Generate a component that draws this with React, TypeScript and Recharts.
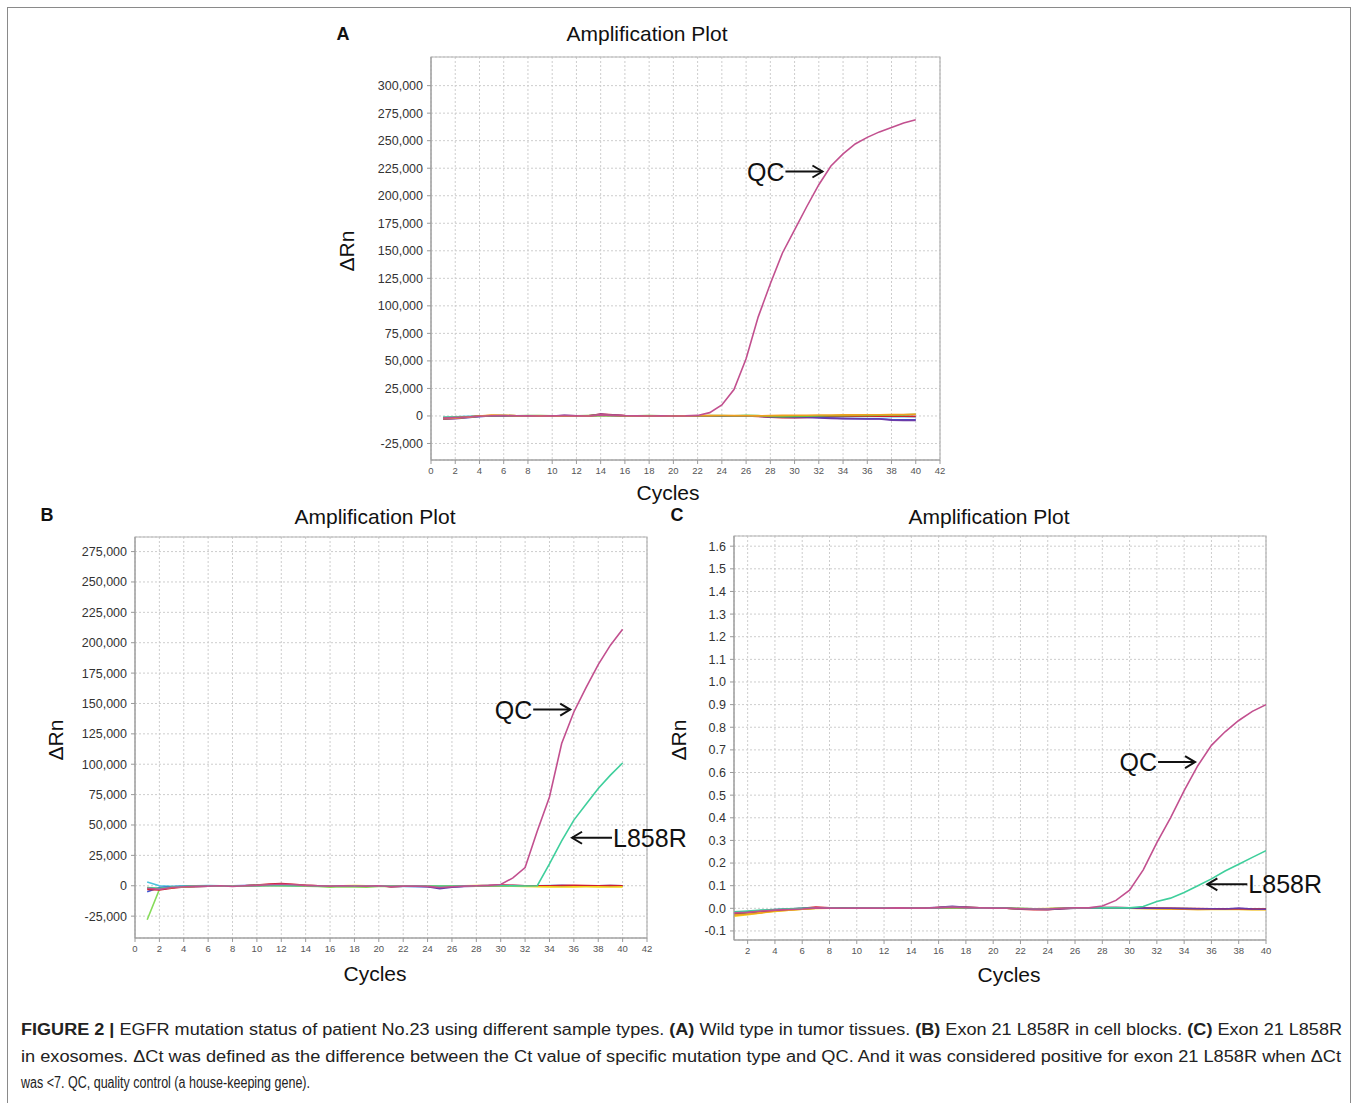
import React from "react";
import {
  LineChart,
  Line,
  XAxis,
  YAxis,
  CartesianGrid,
  ReferenceArea,
  ReferenceDot,
} from "recharts";

const FONT = '"Liberation Sans", Arial, Helvetica, sans-serif';

// ---------- shared categories / ticks ----------
const CYCLES = [
  1, 2, 3, 4, 5, 6, 7, 8, 9, 10, 11, 12, 13, 14, 15, 16, 17, 18, 19, 20,
  21, 22, 23, 24, 25, 26, 27, 28, 29, 30, 31, 32, 33, 34, 35, 36, 37, 38, 39, 40,
];
const X_TICKS_AB = [0, 2, 4, 6, 8, 10, 12, 14, 16, 18, 20, 22, 24, 26, 28, 30, 32, 34, 36, 38, 40, 42];
const X_TICKS_C = [2, 4, 6, 8, 10, 12, 14, 16, 18, 20, 22, 24, 26, 28, 30, 32, 34, 36, 38, 40];
const Y_TICKS_A = [-25000, 0, 25000, 50000, 75000, 100000, 125000, 150000, 175000, 200000, 225000, 250000, 275000, 300000];
const Y_TICKS_B = [-25000, 0, 25000, 50000, 75000, 100000, 125000, 150000, 175000, 200000, 225000, 250000, 275000];
const Y_TICKS_C = [-0.1, 0, 0.1, 0.2, 0.3, 0.4, 0.5, 0.6, 0.7, 0.8, 0.9, 1.0, 1.1, 1.2, 1.3, 1.4, 1.5, 1.6];

// ---------- colours ----------
const C_QC = "#c2508f";
const C_MUT = "#3fcf9c";
const C_GREEN = "#6cbf3f";
const C_LIME = "#86dc5a";
const C_ORANGE = "#f0a020";
const C_YELLOW = "#f2d21a";
const C_PURPLE = "#6a3aa8";
const C_BLUE = "#3a56d6";
const C_RED = "#d0202e";
const C_CYAN = "#4cc4de";
const C_DKGREEN = "#3d7d2a";

// ---------- Panel A (wild type, tumor tissue) ----------
const A_QC = [-2000, -1500, -900, -200, 200, 300, 200, 100, 0, 100, 200, 100, 0, 1000, 500, 200, 100, 0, 100, 0, 100, 500, 3000, 10000, 24000, 52000, 90000, 120000, 148000, 169000, 190000, 210000, 227000, 238000, 247000, 253000, 258000, 262000, 266000, 269000];
const A_GREEN = [-1500, -1200, -800, -200, 200, 300, 200, 400, 300, 200, 100, 200, 300, 400, 200, 100, 200, 300, 200, 100, 0, 200, 400, 300, 200, 500, 300, -500, -600, -400, -200, 0, 200, 300, 400, 500, 600, 800, 1000, 1500];
const A_ORANGE = [-2500, -2000, -1200, 0, 800, 700, 300, 200, 100, 0, -100, 0, 100, 600, 400, 200, 100, 0, -100, 0, 100, 200, 300, 400, 300, 200, 100, 300, 500, 600, 700, 800, 900, 1000, 1000, 1100, 1100, 1200, 1300, 1600];
const A_PURPLE = [-3000, -2500, -1500, -500, 0, 200, 100, 0, -100, 0, 500, 200, 100, 1500, 800, 200, 0, -200, 0, 100, 0, -100, 0, 200, 100, 0, -300, -800, -1200, -1300, -1400, -1800, -2200, -2500, -2600, -2700, -2800, -3800, -4000, -4000];
const A_BLUE = [-2000, -1800, -1200, -400, 0, 100, 0, -100, 0, 100, 200, 100, 0, 800, 400, 100, 0, -100, 0, 100, 0, 0, 100, 200, 100, 0, -200, -500, -800, -900, -1000, -1200, -1800, -2200, -2400, -2500, -2600, -3200, -3500, -3500];
const A_RED = [-2500, -2000, -1000, 0, 300, 200, 100, 0, -100, 0, 300, 200, 100, 1800, 1000, 300, 100, 0, -200, 0, 100, 0, 0, 200, 100, 0, -400, -1200, -1500, -1500, -1300, -800, -600, -400, -300, -200, -200, -300, -300, -400];
const A_CYAN = [-1000, -800, -400, 0, 200, 300, 200, 100, 0, 100, 200, 100, 0, 300, 200, 100, 0, 100, 200, 100, 0, 100, 200, 100, 0, 100, 200, -200, -400, -300, -200, -100, -200, -300, -400, -500, -500, -600, -600, -700];

// ---------- Panel B (L858R, cell blocks) ----------
const B_QC = [-2000, -3000, -1500, -800, -500, -300, 0, -500, 0, 300, 800, 1200, 800, 300, 0, -300, 0, -200, -300, 0, -600, -300, -200, -500, -1500, -800, -300, 0, 300, 1000, 6500, 15000, 45000, 73000, 117000, 143000, 163000, 182000, 198000, 211000];
const B_L858R = [-1500, -2000, -1000, -500, -300, -100, 0, -200, 0, 100, 300, 200, 100, 0, -100, -200, 0, -300, -200, 0, -300, -200, -100, -200, -300, -200, -100, 0, 100, 0, -100, -200, 0, 18000, 37000, 54000, 67000, 80000, 91000, 101000];
const B_CYAN = [3000, 0, -500, -300, 0, 200, 0, -200, 0, 200, 300, 200, 0, -200, 0, -500, 0, -300, -200, 0, -300, -500, -600, -400, -800, -500, -300, -200, 0, -200, -300, -200, 0, 100, 0, -200, -300, -200, -100, 0];
const B_BLUE = [-5000, -1500, -800, -500, -300, 0, -200, 0, 100, 200, 500, 300, 200, 0, -200, -300, -100, -400, -300, 0, -500, -400, -500, -600, -1500, -700, -400, -200, 0, 200, 100, 0, -100, 0, 100, 0, -100, 0, 100, 0];
const B_PURPLE = [-2000, -2500, -1500, -800, -500, -300, 0, -300, 0, 300, 600, 800, 500, 200, 0, -200, 0, -300, -200, 0, -500, -300, -400, -800, -2500, -1200, -500, -300, -100, 0, -200, -300, -200, 0, 100, 0, -200, 0, -100, -300];
const B_RED = [-3000, -3500, -2000, -1000, -600, -300, 0, -400, 0, 600, 1500, 1800, 1200, 300, 0, -200, 0, -200, -100, 0, -800, -400, -200, -300, -600, -400, -200, 0, 200, 500, 300, 0, -100, 0, 200, 300, 100, 0, 100, 0];
const B_ORANGE = [-1500, -2500, -1500, -800, -400, -200, 0, -200, 0, 200, 400, 300, 200, 100, 0, -100, 0, 200, 0, 0, -300, -200, -100, -200, -300, -200, 0, 100, 0, -200, -400, -600, -800, -900, -1000, -900, -800, -900, -1000, -900];
const B_LIME = [-28000, -3000, -1500, -800, -500, -300, 0, -200, 0, 100, 200, 100, 0, -300, -500, -1200, -800, -1000, -1200, -600, -500, -400, -300, -400, -500, -300, -200, -100, 0, -200, -300, -400, -300, -200, -100, 0, -200, -300, -400, -300];

// ---------- Panel C (L858R, exosomes) ----------
const C_QC_V = [-0.02, -0.018, -0.012, -0.008, -0.005, -0.003, 0.002, 0.001, 0.0, 0.001, 0.001, 0.001, 0.002, 0.001, 0.001, 0.003, 0.006, 0.003, 0.002, 0.001, 0.0, -0.002, -0.003, -0.003, 0.0, 0.002, 0.002, 0.01, 0.035, 0.08, 0.17, 0.29, 0.4, 0.52, 0.63, 0.72, 0.78, 0.83, 0.87, 0.9];
const C_L858R = [-0.015, -0.012, -0.008, -0.005, -0.002, 0.0, 0.001, 0.001, 0.0, 0.001, 0.001, 0.002, 0.001, 0.001, 0.0, 0.002, 0.004, 0.002, 0.001, 0.001, 0.0, -0.001, -0.002, -0.002, 0.0, 0.001, 0.002, 0.002, 0.002, 0.002, 0.008, 0.03, 0.045, 0.07, 0.1, 0.13, 0.165, 0.195, 0.225, 0.255];
const C_ORANGE_V = [-0.03, -0.025, -0.02, -0.012, -0.008, -0.004, 0.0, 0.001, 0.0, 0.001, 0.002, 0.001, 0.002, 0.001, 0.0, 0.003, 0.004, 0.003, 0.002, 0.002, 0.0, -0.002, -0.003, -0.002, 0.0, 0.002, 0.001, 0.003, 0.002, 0.0, -0.001, -0.002, -0.003, -0.004, -0.005, -0.004, -0.004, -0.004, -0.005, -0.005];
const C_RED_V = [-0.02, -0.016, -0.012, -0.008, -0.004, 0.0, 0.006, 0.002, 0.001, 0.001, 0.0, 0.001, 0.002, 0.001, 0.0, 0.003, 0.005, 0.004, 0.002, 0.001, 0.0, -0.004, -0.006, -0.006, -0.002, 0.002, 0.001, 0.002, 0.003, 0.002, 0.001, 0.0, 0.0, -0.001, -0.001, -0.002, -0.002, -0.002, -0.003, -0.003];
const C_PURPLE_V = [-0.018, -0.015, -0.01, -0.006, -0.003, 0.0, 0.002, 0.001, 0.0, 0.001, 0.001, 0.002, 0.001, 0.0, 0.001, 0.004, 0.009, 0.005, 0.002, 0.001, 0.0, -0.002, -0.004, -0.005, -0.002, 0.001, 0.002, 0.003, 0.003, 0.002, 0.001, 0.0, 0.0, -0.001, -0.002, -0.002, -0.003, 0.001, -0.003, -0.004];
const C_DKGREEN_V = [-0.025, -0.02, -0.016, -0.01, -0.006, -0.003, 0.0, 0.0, 0.001, 0.001, 0.001, 0.002, 0.001, 0.001, 0.0, 0.002, 0.004, 0.003, 0.002, 0.001, 0.0, -0.001, -0.002, -0.002, -0.001, 0.001, 0.001, 0.002, 0.002, 0.001, 0.0, 0.0, -0.001, -0.001, -0.002, -0.002, -0.002, -0.003, -0.003, -0.003];
const C_YELLOW_V = [-0.035, -0.028, -0.02, -0.014, -0.008, -0.004, -0.001, 0.0, 0.001, 0.001, 0.002, 0.001, 0.002, 0.002, 0.001, 0.002, 0.003, 0.002, 0.001, 0.001, 0.0, -0.001, -0.002, -0.001, 0.0, 0.001, 0.002, 0.002, 0.001, 0.0, -0.001, -0.002, -0.003, -0.004, -0.005, -0.005, -0.005, -0.005, -0.006, -0.006];

type SeriesDef = { key: string; values: number[]; color: string };
type NoteDef = { x: number; y: number; text: string; dir: "right" | "left" };

const SERIES_A: SeriesDef[] = [
  { key: "cyan", values: A_CYAN, color: C_CYAN },
  { key: "red", values: A_RED, color: C_RED },
  { key: "blue", values: A_BLUE, color: C_BLUE },
  { key: "purple", values: A_PURPLE, color: C_PURPLE },
  { key: "green", values: A_GREEN, color: C_GREEN },
  { key: "orange", values: A_ORANGE, color: C_ORANGE },
  { key: "qc", values: A_QC, color: C_QC },
];
const SERIES_B: SeriesDef[] = [
  { key: "cyan", values: B_CYAN, color: C_CYAN },
  { key: "blue", values: B_BLUE, color: C_BLUE },
  { key: "lime", values: B_LIME, color: C_LIME },
  { key: "purple", values: B_PURPLE, color: C_PURPLE },
  { key: "red", values: B_RED, color: C_RED },
  { key: "orange", values: B_ORANGE, color: C_YELLOW },
  { key: "mut", values: B_L858R, color: C_MUT },
  { key: "qc", values: B_QC, color: C_QC },
];
const SERIES_C: SeriesDef[] = [
  { key: "dkgreen", values: C_DKGREEN_V, color: C_DKGREEN },
  { key: "yellow", values: C_YELLOW_V, color: C_YELLOW },
  { key: "orange", values: C_ORANGE_V, color: C_ORANGE },
  { key: "red", values: C_RED_V, color: C_RED },
  { key: "purple", values: C_PURPLE_V, color: C_PURPLE },
  { key: "mut", values: C_L858R, color: C_MUT },
  { key: "qc", values: C_QC_V, color: C_QC },
];

const NOTES_A: NoteDef[] = [{ x: 32.3, y: 222000, text: "QC", dir: "right" }];
const NOTES_B: NoteDef[] = [
  { x: 35.7, y: 145000, text: "QC", dir: "right" },
  { x: 35.85, y: 39500, text: "L858R", dir: "left" },
];
const NOTES_C: NoteDef[] = [
  { x: 34.8, y: 0.646, text: "QC", dir: "right" },
  { x: 35.7, y: 0.106, text: "L858R", dir: "left" },
];

function buildRows(series: SeriesDef[]) {
  return CYCLES.map((c, i) => {
    const row: Record<string, number> = { cycle: c };
    series.forEach((s) => {
      row[s.key] = s.values[i];
    });
    return row;
  });
}

const commaFmt = (v: number) => String(Math.round(v)).replace(/\B(?=(\d{3})+(?!\d))/g, ",");
const decFmt = (v: number) => v.toFixed(1);

function arrowShape(text: string, dir: "right" | "left") {
  return (props: any) => {
    const { cx, cy } = props;
    const len = dir === "right" ? 37 : 40;
    if (dir === "right") {
      return (
        <g>
          <line x1={cx - len} y1={cy} x2={cx} y2={cy} stroke="#111" strokeWidth={2} />
          <path d={`M${cx - 10},${cy - 6} L${cx},${cy} L${cx - 10},${cy + 6}`} fill="none" stroke="#111" strokeWidth={2} />
          <text x={cx - len - 1} y={cy} textAnchor="end" dominantBaseline="central" fontSize={25} fontFamily={FONT} fill="#111">
            {text}
          </text>
        </g>
      );
    }
    return (
      <g>
        <line x1={cx} y1={cy} x2={cx + len} y2={cy} stroke="#111" strokeWidth={2} />
        <path d={`M${cx + 10},${cy - 6} L${cx},${cy} L${cx + 10},${cy + 6}`} fill="none" stroke="#111" strokeWidth={2} />
        <text x={cx + len + 1} y={cy} textAnchor="start" dominantBaseline="central" fontSize={25} fontFamily={FONT} fill="#111">
          {text}
        </text>
      </g>
    );
  };
}

type PanelProps = {
  left: number;
  top: number;
  width: number;
  height: number;
  yWidth: number;
  xDomain: [number, number];
  yDomain: [number, number];
  xTicks: number[];
  yTicks: number[];
  yFormat: (v: number) => string;
  series: SeriesDef[];
  notes: NoteDef[];
};

function Panel(p: PanelProps) {
  const rows = buildRows(p.series);
  return (
    <div style={{ position: "absolute", left: p.left, top: p.top }}>
      <LineChart width={p.width} height={p.height} data={rows} margin={{ top: 4, right: 12, bottom: 0, left: 0 }}>
        <CartesianGrid stroke="#cdcdcd" strokeDasharray="2 2" />
        <XAxis
          dataKey="cycle"
          type="number"
          domain={p.xDomain}
          ticks={p.xTicks}
          interval={0}
          height={25}
          allowDataOverflow
          tick={{ fontSize: 9.5, fill: "#555", fontFamily: FONT }}
          tickSize={4}
          tickMargin={3}
          stroke="#9a9a9a"
        />
        <YAxis
          type="number"
          domain={p.yDomain}
          ticks={p.yTicks}
          interval={0}
          width={p.yWidth}
          allowDataOverflow
          tickFormatter={p.yFormat}
          tick={{ fontSize: 12.5, fill: "#333", fontFamily: FONT }}
          tickSize={4}
          tickMargin={4}
          stroke="#9a9a9a"
        />
        <ReferenceArea
          x1={p.xDomain[0]}
          x2={p.xDomain[1]}
          y1={p.yDomain[0]}
          y2={p.yDomain[1]}
          fill="none"
          fillOpacity={0}
          stroke="#b3b3b3"
          strokeWidth={1.2}
          ifOverflow="visible"
        />
        {p.series.map((s) => (
          <Line
            key={s.key}
            dataKey={s.key}
            type="linear"
            stroke={s.color}
            strokeWidth={1.6}
            dot={false}
            activeDot={false}
            isAnimationActive={false}
          />
        ))}
        {p.notes.map((n, i) => (
          <ReferenceDot key={i} x={n.x} y={n.y} r={0} ifOverflow="visible" shape={arrowShape(n.text, n.dir)} />
        ))}
      </LineChart>
    </div>
  );
}

function Txt(props: { x: number; y: number; size: number; bold?: boolean; rotate?: number; children: React.ReactNode }) {
  return (
    <div
      style={{
        position: "absolute",
        left: props.x,
        top: props.y,
        transform: `translate(-50%, -50%) rotate(${props.rotate || 0}deg)`,
        fontSize: props.size,
        fontWeight: props.bold ? 700 : 400,
        fontFamily: FONT,
        color: "#111",
        whiteSpace: "nowrap",
        lineHeight: 1,
      }}
    >
      {props.children}
    </div>
  );
}

export default function App() {
  return (
    <div
      style={{
        position: "absolute",
        left: 0,
        top: 0,
        width: 1357,
        height: 1103,
        overflow: "hidden",
        background: "#fff",
        fontFamily: FONT,
      }}
    >
      <style>{`.recharts-wrapper, .recharts-surface { overflow: visible !important; }`}</style>
      <div
        style={{
          position: "absolute",
          left: 7,
          top: 7,
          width: 1342,
          height: 1120,
          border: "1px solid #8a8a8a",
        }}
      />

      {/* Panel A */}
      <Txt x={343} y={34} size={18} bold>A</Txt>
      <Txt x={647} y={33} size={21}>Amplification Plot</Txt>
      <Txt x={346} y={251} size={21} rotate={-90}>ΔRn</Txt>
      <Txt x={668} y={492} size={21}>Cycles</Txt>
      <Panel
        left={340}
        top={53}
        width={940 - 340 + 12}
        height={403 + 4 + 25}
        yWidth={91}
        xDomain={[0, 42]}
        yDomain={[-40000, 326000]}
        xTicks={X_TICKS_AB}
        yTicks={Y_TICKS_A}
        yFormat={commaFmt}
        series={SERIES_A}
        notes={NOTES_A}
      />

      {/* Panel B */}
      <Txt x={47} y={515} size={18} bold>B</Txt>
      <Txt x={375} y={516} size={21}>Amplification Plot</Txt>
      <Txt x={55} y={740} size={21} rotate={-90}>ΔRn</Txt>
      <Txt x={375} y={973} size={21}>Cycles</Txt>
      <Panel
        left={44}
        top={533}
        width={647 - 44 + 12}
        height={401 + 4 + 25}
        yWidth={91}
        xDomain={[0, 42]}
        yDomain={[-43000, 287000]}
        xTicks={X_TICKS_AB}
        yTicks={Y_TICKS_B}
        yFormat={commaFmt}
        series={SERIES_B}
        notes={NOTES_B}
      />

      {/* Panel C */}
      <Txt x={677} y={515} size={18} bold>C</Txt>
      <Txt x={989} y={516} size={21}>Amplification Plot</Txt>
      <Txt x={678} y={740} size={21} rotate={-90}>ΔRn</Txt>
      <Txt x={1009} y={974} size={21}>Cycles</Txt>
      <Panel
        left={684}
        top={532}
        width={1266 - 684 + 12}
        height={404 + 4 + 25}
        yWidth={50}
        xDomain={[1, 40]}
        yDomain={[-0.14, 1.645]}
        xTicks={X_TICKS_C}
        yTicks={Y_TICKS_C}
        yFormat={decFmt}
        series={SERIES_C}
        notes={NOTES_C}
      />

      {/* Caption */}
      <svg width={1357} height={100} style={{ position: "absolute", left: 0, top: 1003 }}>
        <text x={21} y={32} fontSize={16} fontFamily={FONT} fill="#222" textLength={1321} lengthAdjust="spacingAndGlyphs">
          <tspan fontWeight={700}>FIGURE 2 |</tspan>
          <tspan> EGFR mutation status of patient No.23 using different sample types. </tspan>
          <tspan fontWeight={700}>(A)</tspan>
          <tspan> Wild type in tumor tissues. </tspan>
          <tspan fontWeight={700}>(B)</tspan>
          <tspan> Exon 21 L858R in cell blocks. </tspan>
          <tspan fontWeight={700}>(C)</tspan>
          <tspan> Exon 21 L858R</tspan>
        </text>
        <text x={21} y={59} fontSize={16} fontFamily={FONT} fill="#222" textLength={1320} lengthAdjust="spacingAndGlyphs">
          in exosomes. ΔCt was defined as the difference between the Ct value of specific mutation type and QC. And it was considered positive for exon 21 L858R when ΔCt
        </text>
        <text x={21} y={85} fontSize={16} fontFamily={FONT} fill="#222" textLength={289} lengthAdjust="spacingAndGlyphs">
          was &lt;7. QC, quality control (a house-keeping gene).
        </text>
      </svg>
    </div>
  );
}
